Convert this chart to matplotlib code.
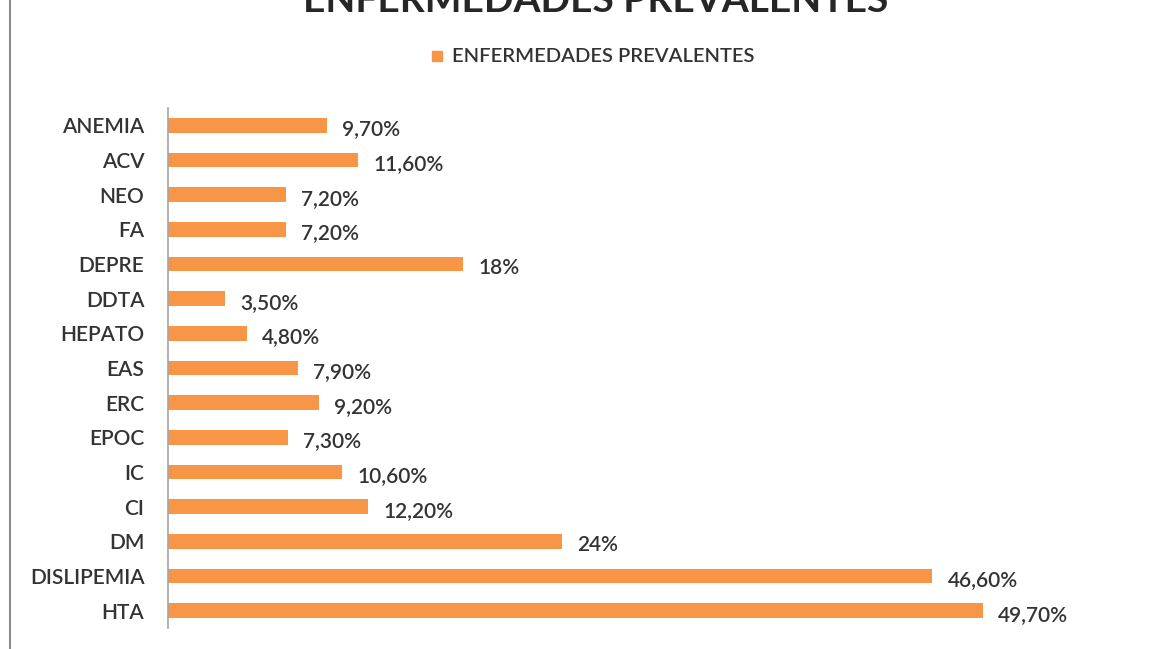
import numpy as np
import matplotlib.pyplot as plt
from matplotlib.lines import Line2D

### DATA
categories = ['ANEMIA', 'ACV', 'NEO', 'FA', 'DEPRE', 'DDTA', 'HEPATO', 'EAS',
              'ERC', 'EPOC', 'IC', 'CI', 'DM', 'DISLIPEMIA', 'HTA']
values = [9.7, 11.6, 7.2, 7.2, 18, 3.5, 4.8, 7.9, 9.2, 7.3, 10.6, 12.2, 24,
          46.6, 49.7]
series_name = 'ENFERMEDADES PREVALENTES'
title = 'ENFERMEDADES PREVALENTES'

### STYLE
BAR_COLOR = '#F79646'
TEXT_COLOR = '#333333'
plt.rcParams['font.family'] = ['Lato', 'DejaVu Sans']


def fmt(v):
    # Spanish decimal comma, integers without decimals
    if float(v).is_integer():
        return f'{int(v)}%'
    return f'{v:.2f}'.replace('.', ',') + '%'


W, H = 1165, 649
fig = plt.figure(figsize=(W / 100, H / 100), dpi=100)
ax = fig.add_axes([168 / W, 21 / H, 984 / W, 520 / H])

y = np.arange(len(categories))
ax.barh(y, values, height=0.42, color=BAR_COLOR)
ax.set_ylim(len(categories) - 0.5, -0.5)
ax.set_xlim(0, 60)

for yi, v in zip(y, values):
    ax.annotate(fmt(v), (v, yi), xytext=(11, -3), textcoords='offset points',
                va='center', ha='left', fontsize=15, fontweight='semibold',
                color=TEXT_COLOR)

ax.set_yticks(y)
ax.set_yticklabels(categories, fontsize=15, fontweight='semibold',
                   color=TEXT_COLOR)
ax.tick_params(axis='y', length=0, pad=17)
ax.set_xticks([])
for side in ['top', 'right', 'bottom']:
    ax.spines[side].set_visible(False)
ax.spines['left'].set_color('#a6a6a6')
ax.spines['left'].set_linewidth(1.2)

# title (cut off at the top, as in the source image)
fig.text(596 / W, 1 - 12 / H, title, ha='center', va='baseline',
         fontsize=28, fontweight='bold', color='#262626')

# legend
fig.patches.append(plt.Rectangle((432 / W, 1 - 61 / H), 10 / W, 10 / H,
                                 transform=fig.transFigure, color=BAR_COLOR))
fig.text(452 / W, 1 - 57 / H, series_name, ha='left', va='center',
         fontsize=14.5, fontweight='semibold', color=TEXT_COLOR)

# left border of the chart area
fig.add_artist(Line2D([10 / W, 10 / W], [0, 1], color='#8c8c8c', lw=1.5,
                      transform=fig.transFigure))

fig.savefig('out.png', dpi=100)
